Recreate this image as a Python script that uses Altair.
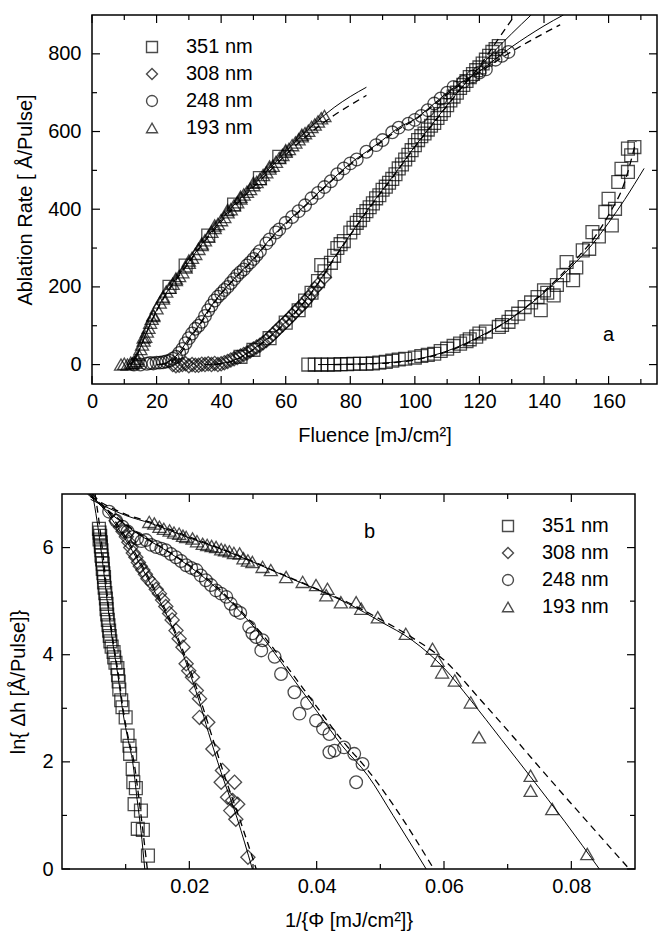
import altair as alt
import pandas as pd

FONT = "Liberation Sans"
FS = 20

# ---------------- Panel a : ablation rate vs fluence ----------------
a351 = [(67,0),(69,0),(71,0),(73,0),(75,0),(77,1),(79,1),(81,2),(83,2),(85,2),(87,3),(89,5),
        (91,7),(93,10),(95,13),(97,15),(100,18),(102,22),(104,25),(106,28),(108,35),(110,41),
        (112,48),(114,54),(116,60),(117,65),(119,72),(120,80),(122,85),(126,97),(127,102),
        (129,110),(130,122),(132,131),(134,148),(136,160),(138,174),(139,140),(140,191),
        (141,185),(143,178),(144,205),(146,230),(147,264),(149,217),(150,250),(152,294),
        (154,298),(155,341),(157,330),(159,393),(160,427),(161,358),(162,401),(163,470),
        (164,504),(166,496),(166,556),(167,539),(168,560)]
a308_diamond = [(25,0),(26,-3),(27,-2),(28,0),(29,2),(30,-3),(31,0),(32,-2),(33,-2),(34,1),
        (35,0),(36,2),(37,0),(38,3),(39,0),(40,2),(41,5),(42,8),(43,12),(44,15),(45,18),
        (46,22),(47,26),(48,30),(49,35),(50,40),(51,45),(52,50),(53,56),(54,62),(55,70),
        (56,78),(57,86),(58,95),(59,102),(60,110),(61,118),(62,127),(63,136),(64,145),
        (65,152),(66,162),(67,172),(68,182),(69,195),(70,205),(72,225)]
a308_square = [(46,20),(50,38),(55,68),(60,108),(64,140),(66,165),(68,185),(70,215),(71,256),
        (72,240),(74,262),(75,280),(76,300),(77,310),(78,318),(80,340),(81,352),(82,365),
        (83,372),(84,385),(85,395),(86,405),(87,415),(88,428),(89,436),(90,450),(91,458),
        (92,468),(93,478),(94,490),(95,505),(96,515),(97,528),(98,540),(99,552),(100,565),
        (101,578),(102,588),(103,595),(104,605),(105,615),(106,622),(107,635),(108,645),
        (109,655),(110,668),(111,680),(112,690),(113,700),(114,712),(115,720),(116,730),
        (117,740),(118,748),(119,758),(120,765),(121,775),(122,785),(123,795),(124,805),
        (125,812),(126,820)]
a248 = [(13,0),(15,0),(17,2),(18,4),(19,3),(20,5),(21,5),(22,6),(23,8),(24,10),(25,15),
        (26,20),(27,30),(28,40),(29,55),(30,68),(31,80),(32,92),(33,100),(34,110),(35,125),
        (36,140),(37,152),(38,165),(39,175),(40,183),(41,192),(42,200),(43,210),(44,220),
        (45,230),(46,238),(47,245),(48,255),(49,263),(50,272),(51,282),(52,292),(54,312),
        (55,322),(57,340),(58,348),(60,365),(62,380),(64,395),(66,410),(68,428),(70,442),
        (72,457),(74,472),(76,490),(78,505),(80,518),(82,528),(85,548),(88,565),(90,578),
        (93,598),(95,610),(98,620),(100,630),(102,640),(104,655),(106,672),(108,685),
        (110,700),(112,715),(115,728),(118,742),(120,752),(122,760),(125,785),(127,795),
        (129,805)]
a193 = [(9,0),(10,2),(11,0),(12,5),(12.5,3),(13,8),(13.5,5),(14,10),(14.5,25),(15,40),
        (15.5,52),(16,62),(16.5,72),(17,85),(17.5,95),(18,108),(18.5,118),(19,128),(20,145),
        (21,160),(22,175),(23,188),(24,198),(25,208),(26,218),(27,228),(28,238),(29,250),
        (30,262),(31,275),(32,285),(33,298),(34,308),(35,320),(36,330),(37,342),(38,352),
        (39,362),(40,372),(41,380),(42,392),(43,400),(44,410),(45,418),(46,428),(47,438),
        (48,445),(49,452),(50,462),(51,470),(52,478),(53,488),(54,495),(55,505),(56,512),
        (57,522),(58,532),(59,540),(60,548),(61,555),(62,565),(63,572),(64,580),(65,588),
        (66,596),(67,602),(68,612),(69,618),(70,626),(71,634),(72,640),
        (14,15),(16,70),(19,125),(22,170),(26,222),(30,268),(34,312),(38,358),(42,398),
        (46,432),(50,468),(55,510),(60,552),(65,592)]
a193_square = [(24,200),(29,255),(36,332),(44,412),(52,480),(58,535)]

fa193_solid = [(11,0),(13,10),(15,45),(17,85),(20,140),(25,210),(30,265),(35,322),(40,373),
        (45,420),(50,462),(55,505),(60,548),(65,590),(70,628),(75,662),(80,690),(85,714)]
fa193_dash = [(12,0),(14,25),(16,65),(20,138),(25,206),(30,262),(35,318),(40,368),(45,415),
        (50,457),(55,498),(60,540),(65,578),(70,612),(75,642),(80,668),(85,693)]
fa248_solid = [(20,0),(23,5),(26,22),(28,42),(30,68),(33,100),(36,140),(40,184),(45,230),
        (50,272),(55,322),(60,365),(65,402),(70,442),(75,481),(80,518),(85,548),(90,578),
        (95,610),(100,632),(105,665),(110,700),(115,730),(120,755),(125,787),(130,818),
        (135,846),(140,872),(146,900)]
fa248_dash = [(21,0),(24,6),(27,25),(29,48),(31,75),(34,110),(37,150),(40,182),(45,228),
        (50,270),(55,320),(60,362),(65,400),(70,440),(75,479),(80,515),(85,545),(90,575),
        (95,606),(100,630),(105,662),(110,696),(115,726),(120,752),(125,780),(130,806),
        (135,830),(140,853),(145,875)]
fa308_solid = [(35,0),(40,3),(45,15),(50,40),(55,72),(60,110),(65,155),(70,210),(75,275),
        (80,335),(85,395),(90,450),(95,505),(100,562),(105,615),(110,668),(115,718),
        (120,765),(125,810),(130,852),(136,900)]
fa308_dash = [(38,0),(42,5),(46,18),(50,38),(55,70),(60,108),(65,153),(70,208),(75,272),
        (80,333),(85,392),(90,448),(95,503),(100,560),(105,613),(110,666),(115,718),
        (120,768),(125,828),(131,900)]
fa351_solid = [(70,0),(80,1),(90,4),(100,13),(110,35),(120,72),(130,120),(140,185),
        (150,265),(155,310),(160,365),(165,425),(171,505)]
fa351_dash = [(75,0),(90,3),(100,12),(110,33),(120,70),(130,120),(140,188),(150,272),
        (155,320),(160,385),(165,470),(168.5,575)]

# ---------------- Panel b : ln(rate) vs 1/fluence ----------------
b351 = [(0.0058,6.35),(0.0059,6.28),(0.0060,6.22),(0.0059,6.15),(0.0061,6.10),(0.0061,6.02),
        (0.0062,5.95),(0.0062,5.85),(0.0063,5.78),(0.0064,5.70),(0.0064,5.60),(0.0065,5.52),
        (0.0066,5.45),(0.0066,5.35),(0.0067,5.25),(0.0068,5.15),(0.0069,5.05),(0.0070,4.95),
        (0.0070,4.85),(0.0071,4.75),(0.0072,4.65),(0.0073,4.55),(0.0074,4.45),(0.0075,4.35),
        (0.0076,4.25),(0.0078,4.15),(0.0081,4.05),(0.0082,3.95),(0.0084,3.85),(0.0087,3.75),
        (0.0088,3.62),(0.0089,3.50),(0.0090,3.35),(0.0093,3.15),(0.0095,3.02),(0.0100,2.83),
        (0.0103,2.49),(0.0106,2.30),(0.0107,2.15),(0.0111,1.87),(0.0112,1.62),(0.0116,1.51),
        (0.0114,1.21),(0.0124,1.09),(0.0119,0.75),(0.0127,0.73),(0.0135,0.25)]
b308 = [(0.0085,6.5),(0.0092,6.38),(0.0096,6.3),(0.0101,6.2),(0.0105,6.1),(0.0108,6.0),
        (0.0112,5.9),(0.0116,5.82),(0.0120,5.72),(0.0123,5.65),(0.0127,5.58),(0.0131,5.5),
        (0.0135,5.42),(0.0142,5.33),(0.0148,5.22),(0.0153,5.14),(0.0158,5.02),(0.0163,4.9),
        (0.0169,4.77),(0.0173,4.65),(0.0179,4.45),(0.0184,4.3),(0.0190,4.14),(0.0195,3.83),
        (0.0199,3.7),(0.0205,3.58),(0.0211,3.33),(0.0216,3.18),(0.0216,2.83),(0.0229,2.74),
        (0.0237,2.24),(0.0252,1.84),(0.0250,1.62),(0.0271,1.62),(0.0260,1.34),(0.0268,1.28),
        (0.0276,1.21),(0.0265,1.09),(0.0273,0.93),(0.0292,0.22)]
b248 = [(0.0074,6.67),(0.0085,6.5),(0.0095,6.39),(0.0103,6.3),(0.0111,6.2),(0.0118,6.17),
        (0.0125,6.12),(0.0132,6.14),(0.0140,6.05),(0.0148,6.01),(0.0156,5.98),(0.0163,5.95),
        (0.0171,5.88),(0.0179,5.82),(0.0187,5.75),(0.0195,5.67),(0.0203,5.62),(0.0211,5.58),
        (0.0218,5.48),(0.0226,5.39),(0.0234,5.3),(0.0242,5.2),(0.0250,5.14),(0.0258,5.08),
        (0.0265,4.95),(0.0273,4.83),(0.0280,4.78),(0.0294,4.52),(0.0299,4.40),(0.0305,4.33),
        (0.0315,4.27),(0.0313,4.08),(0.0334,3.96),(0.0344,3.64),(0.0365,3.3),(0.0373,2.9),
        (0.0385,3.1),(0.0399,2.77),(0.0410,2.62),(0.0420,2.52),(0.0420,2.18),(0.0428,2.21),
        (0.0443,2.27),(0.0459,2.15),(0.0472,1.96),(0.0462,1.62)]
b193 = [(0.0137,6.48),(0.0145,6.45),(0.0153,6.39),(0.0160,6.35),(0.0169,6.32),(0.0176,6.28),
        (0.0184,6.26),(0.0190,6.22),(0.0195,6.2),(0.0205,6.17),(0.0212,6.12),(0.0221,6.07),
        (0.0228,6.05),(0.0235,6.03),(0.0242,6.01),(0.0250,5.97),(0.0256,5.95),(0.0263,5.93),
        (0.0270,5.9),(0.0279,5.89),(0.0285,5.8),(0.0292,5.76),(0.0299,5.73),(0.0315,5.64),
        (0.0328,5.58),(0.0352,5.45),(0.0378,5.36),(0.0399,5.3),(0.0417,5.23),(0.0415,5.11),
        (0.0438,4.98),(0.0462,4.98),(0.0470,4.86),(0.0496,4.7),(0.0540,4.39),(0.0582,4.11),
        (0.0590,3.89),(0.0597,3.67),(0.0617,3.52),(0.0642,3.11),(0.0655,2.46),(0.0736,1.74),
        (0.0736,1.46),(0.0770,1.12),(0.0825,0.28)]

fb351_solid = [(0.0048,7.0),(0.0055,6.5),(0.0063,5.8),(0.0072,4.9),(0.0080,4.2),(0.0088,3.6),
        (0.0096,2.9),(0.0104,2.4),(0.0111,2.0),(0.0118,1.3),(0.0124,0.72),(0.0130,0.0)]
fb351_dash = [(0.0052,7.0),(0.0058,6.5),(0.0065,5.8),(0.0073,4.9),(0.0081,4.2),(0.0089,3.6),
        (0.0097,2.9),(0.0105,2.4),(0.0113,2.0),(0.0121,1.3),(0.0127,0.72),(0.0134,0.0)]
fb308_solid = [(0.0045,7.0),(0.008,6.5),(0.011,5.95),(0.014,5.3),(0.017,4.6),(0.0195,3.85),
        (0.0215,3.15),(0.023,2.55),(0.025,1.8),(0.0275,0.95),(0.0299,0.0)]
fb308_dash = [(0.0048,7.0),(0.008,6.55),(0.011,6.0),(0.014,5.35),(0.017,4.65),(0.0195,3.92),
        (0.0215,3.25),(0.0235,2.5),(0.0255,1.75),(0.028,0.9),(0.0305,0.0)]
fb248_solid = [(0.004,7.0),(0.008,6.6),(0.012,6.25),(0.016,5.97),(0.020,5.65),(0.024,5.27),
        (0.028,4.8),(0.032,4.25),(0.036,3.6),(0.040,2.95),(0.044,2.3),(0.048,1.75),
        (0.052,1.0),(0.0572,0.0)]
fb248_dash = [(0.0043,7.0),(0.008,6.62),(0.012,6.27),(0.016,5.98),(0.020,5.67),(0.024,5.3),
        (0.028,4.83),(0.032,4.3),(0.036,3.67),(0.040,3.03),(0.044,2.4),(0.048,1.85),
        (0.052,1.2),(0.0584,0.0)]
fb193_solid = [(0.0045,6.9),(0.010,6.6),(0.014,6.45),(0.020,6.18),(0.025,5.97),(0.030,5.73),
        (0.035,5.47),(0.040,5.22),(0.045,4.95),(0.050,4.62),(0.055,4.27),(0.060,3.75),
        (0.0642,3.15),(0.069,2.42),(0.0736,1.72),(0.079,0.88),(0.0844,0.0)]
fb193_dash = [(0.0045,6.95),(0.010,6.62),(0.014,6.47),(0.020,6.2),(0.025,5.98),(0.030,5.74),
        (0.035,5.48),(0.040,5.23),(0.045,4.97),(0.050,4.66),(0.055,4.32),(0.060,3.9),
        (0.0658,3.15),(0.071,2.45),(0.0763,1.72),(0.082,0.95),(0.0891,0.0)]

# ---------------- ticks, labels, legend ----------------
a_x_major = [0, 20, 40, 60, 80, 100, 120, 140, 160]
a_x_minor = [10, 30, 50, 70, 90, 110, 130, 150, 170]
a_y_major = [0, 200, 400, 600, 800]
a_y_minor = [100, 300, 500, 700]
b_x_major = [0.02, 0.04, 0.06, 0.08]
b_x_minor = [0.01, 0.03, 0.05, 0.07]
b_y_major = [0, 2, 4, 6]
b_y_minor = [1, 3, 5]

series_names = ["351 nm", "308 nm", "248 nm", "193 nm"]
series_shapes = ["square", "diamond", "circle", "triangle-up"]
series_sizes = [165, 200, 160, 170]


def pts(pairs, name):
    return pd.DataFrame({"x": [p[0] for p in pairs], "y": [p[1] for p in pairs], "series": name})


def fits(named):
    return pd.concat([pts(pairs, name) for name, pairs in named], ignore_index=True)


def panel(series_pts, squares, solid, dashed, xdom, ydom, xmaj, xmin, ymaj, ymin, W, H, ext,
          xtitle, ytitle, xfmt, yfmt, leg_xy, letter, letter_xy, xlabpad, ylabpad,
          xtitlepad, ytitlepad):
    # 'ext' extra pixels to the left of the frame inside the view (for the layout offset)
    Wtot = W + ext
    px_per_unit = W / (xdom[1] - xdom[0])
    xs = alt.Scale(domain=[xdom[0] - ext / px_per_unit, xdom[1]], nice=False, zero=False)
    ys = alt.Scale(domain=ydom, nice=False, zero=False)
    ax = alt.Axis(values=xmaj, format=xfmt, title=xtitle, ticks=False, domain=False,
                  grid=False, labelPadding=xlabpad, titlePadding=xtitlepad, labelFlush=False,
                  titleX=ext + W / 2)
    ay = alt.Axis(values=ymaj, format=yfmt, title=ytitle, ticks=False, domain=False,
                  grid=False, labelPadding=ylabpad, titlePadding=ytitlepad, offset=-ext)
    X = lambda f: alt.X(f, scale=xs, axis=ax)
    Y = lambda f: alt.Y(f, scale=ys, axis=ay)

    frame = pd.DataFrame({"x0": [xdom[0]], "x1": [xdom[1]], "y0": [ydom[0]], "y1": [ydom[1]]})
    layers = [alt.Chart(frame).mark_rect(fill="transparent", stroke="black",
                                         strokeWidth=1.5).encode(
        x=X("x0:Q"), x2="x1:Q", y=Y("y0:Q"), y2="y1:Q")]
    layers.append(alt.Chart(solid).mark_line(color="black", strokeWidth=1.0, clip=True,
                                             interpolate="monotone").encode(
        x=X("x:Q"), y=Y("y:Q"), detail="series:N"))
    layers.append(alt.Chart(dashed).mark_line(color="black", strokeWidth=1.3, strokeDash=[7, 5],
                                              clip=True, interpolate="monotone").encode(
        x=X("x:Q"), y=Y("y:Q"), detail="series:N"))
    if squares is not None:
        layers.append(alt.Chart(squares).mark_point(shape="square", filled=False, color="black",
                                                    strokeWidth=1.3, size=165, clip=True).encode(
            x=X("x:Q"), y=Y("y:Q")))
    legend = alt.Legend(orient="none", legendX=leg_xy[0], legendY=leg_xy[1], title=None,
                        labelFont=FONT, labelFontSize=FS, labelColor="black", symbolSize=120,
                        symbolStrokeWidth=1.4, symbolStrokeColor="black", rowPadding=7,
                        labelOffset=24, padding=0)
    shape_scale = alt.Scale(domain=series_names, range=series_shapes)
    for df, size in zip(series_pts, series_sizes):
        layers.append(alt.Chart(df).mark_point(filled=False, color="black", strokeWidth=1.3,
                                               size=size, clip=True).encode(
            x=X("x:Q"), y=Y("y:Q"),
            shape=alt.Shape("series:N", scale=shape_scale, legend=legend)))
    rule = dict(color="black", strokeWidth=1.2)
    for vals, ln in ((xmaj, 8), (xmin, 5)):
        d = pd.DataFrame({"v": vals})
        layers.append(alt.Chart(d).mark_rule(**rule).encode(
            x=X("v:Q"), y=alt.value(H), y2=alt.value(H - ln)))
        layers.append(alt.Chart(d).mark_rule(**rule).encode(
            x=X("v:Q"), y=alt.value(0), y2=alt.value(ln)))
    for vals, ln in ((ymaj, 8), (ymin, 5)):
        d = pd.DataFrame({"v": vals})
        layers.append(alt.Chart(d).mark_rule(**rule).encode(
            y=Y("v:Q"), x=alt.value(ext), x2=alt.value(ext + ln)))
        layers.append(alt.Chart(d).mark_rule(**rule).encode(
            y=Y("v:Q"), x=alt.value(Wtot), x2=alt.value(Wtot - ln)))
    lab = pd.DataFrame({"x": [letter_xy[0]], "y": [letter_xy[1]], "t": [letter]})
    layers.append(alt.Chart(lab).mark_text(font=FONT, fontSize=FS, color="black",
                                           baseline="middle", align="center").encode(
        x=X("x:Q"), y=Y("y:Q"), text="t:N"))
    return alt.layer(*layers).properties(width=Wtot, height=H)


pa = [pts(a351, "351 nm"), pts(a308_diamond, "308 nm"), pts(a248, "248 nm"), pts(a193, "193 nm")]
pa_sq = pd.concat([pts(a308_square, "sq"), pts(a193_square, "sq")], ignore_index=True)
fa_s = fits([("351", fa351_solid), ("308", fa308_solid), ("248", fa248_solid), ("193", fa193_solid)])
fa_d = fits([("351", fa351_dash), ("308", fa308_dash), ("248", fa248_dash), ("193", fa193_dash)])

pb = [pts(b351, "351 nm"), pts(b308, "308 nm"), pts(b248, "248 nm"), pts(b193, "193 nm")]
fb_s = fits([("351", fb351_solid), ("308", fb308_solid), ("248", fb248_solid), ("193", fb193_solid)])
fb_d = fits([("351", fb351_dash), ("308", fb308_dash), ("248", fb248_dash), ("193", fb193_dash)])

top = panel(pa, pa_sq, fa_s, fa_d, [0, 175], [-50, 900], a_x_major, a_x_minor, a_y_major,
            a_y_minor, 565, 369, 30, "Fluence [mJ/cm²]", "Ablation Rate [ Å/Pulse]", "d", "d",
            (80, 22), "a", (160, 76), 7, 11, 14, 12)
bottom = panel(pb, None, fb_s, fb_d, [0, 0.09], [0, 7], b_x_major, b_x_minor, b_y_major,
               b_y_minor, 573, 375, 0, "1/{Φ [mJ/cm²]}", "ln{ Δh [Å/Pulse]}", ".2f", "d",
               (436, 22), "b", (0.0483, 6.29), 7, 9, 14, 13)

chart = alt.vconcat(top, bottom, spacing=46).resolve_scale(
    shape="independent", x="independent", y="independent"
).resolve_legend(shape="independent").properties(
    padding={"left": 8, "top": 13, "right": 5, "bottom": 5}
).configure_view(stroke="transparent").configure_axis(
    labelFont=FONT, labelFontSize=FS, labelColor="black", titleFont=FONT, titleFontSize=FS,
    titleFontWeight="normal", titleColor="black"
)

chart.save("out.html", embed_options={"renderer": "svg", "actions": False})
